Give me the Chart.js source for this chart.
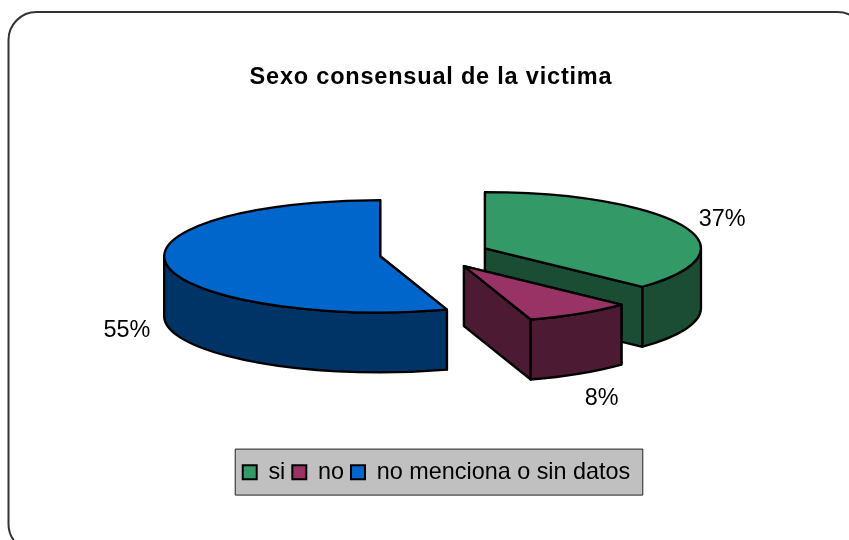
<!DOCTYPE html>
<html>
<head>
<meta charset="utf-8">
<title>Sexo consensual de la victima</title>
<script src="https://cdn.jsdelivr.net/npm/chart.js@4"></script>
<style>
  html, body { margin: 0; padding: 0; background: #fff; }
  #wrap { width: 849px; height: 540px; }
</style>
</head>
<body>
<div id="wrap"><canvas id="pieChart" width="849" height="540"></canvas></div>
<script>
const categories = ['si', 'no', 'no menciona o sin datos'];
const shares = [37, 8, 55];
const sliceColors = ['#339966', '#993366', '#0066CC'];
const wallColors = ['#1A4D33', '#4D1A33', '#003366'];

// tilted pie settings
const pieCenter = { x: 434.5, y: 254 };
const tilt = 0.26;
const depth = 60;
const explode = 55;
// where each percent label sits relative to its slice's rim
const labelNudge = [[39, -6], [22, 85], [-40, 66]];

const labelFont = '"Liberation Sans", Arial, sans-serif';

function outline(ctx, fill) {
  ctx.fillStyle = fill;
  ctx.fill();
  ctx.lineWidth = 2.3;
  ctx.strokeStyle = '#000';
  ctx.lineJoin = 'round';
  ctx.stroke();
}

// one exploded slice: cut faces, then the rim wall, then the top
function drawSlice(ctx, arc, i) {
  const { startAngle, endAngle, outerRadius: r } = arc;
  const mid = (startAngle + endAngle) / 2;
  const cx = pieCenter.x + Math.cos(mid) * explode;
  const cy = pieCenter.y + Math.sin(mid) * explode * tilt;
  const rimX = a => cx + Math.cos(a) * r;
  const rimY = a => cy + Math.sin(a) * r * tilt;

  [startAngle, endAngle].forEach(a => {
    ctx.beginPath();
    ctx.moveTo(cx, cy);
    ctx.lineTo(rimX(a), rimY(a));
    ctx.lineTo(rimX(a), rimY(a) + depth);
    ctx.lineTo(cx, cy + depth);
    ctx.closePath();
    outline(ctx, wallColors[i]);
  });

  // only the front half of the rim shows (canvas angles 0..PI, plus 2PI wrap)
  const wrap = endAngle > Math.PI * 2 ? Math.PI * 2 : 0;
  const from = Math.max(startAngle, wrap);
  const to = Math.min(endAngle, wrap + Math.PI);
  if (to > from) {
    ctx.beginPath();
    ctx.ellipse(cx, cy, r, r * tilt, 0, from, to);
    ctx.lineTo(rimX(to), rimY(to) + depth);
    ctx.ellipse(cx, cy + depth, r, r * tilt, 0, to, from, true);
    ctx.closePath();
    outline(ctx, wallColors[i]);
  }

  ctx.beginPath();
  ctx.moveTo(cx, cy);
  ctx.ellipse(cx, cy, r, r * tilt, 0, startAngle, endAngle);
  ctx.closePath();
  outline(ctx, sliceColors[i]);

  ctx.fillStyle = '#000';
  ctx.font = '23.4px ' + labelFont;
  ctx.textAlign = 'center';
  ctx.textBaseline = 'middle';
  ctx.fillText(shares[i] + '%', rimX(mid) + labelNudge[i][0], rimY(mid) + labelNudge[i][1]);
}

const tiltedPie = {
  id: 'tiltedPie',
  afterInit(chart) {
    // the heading is set slightly wider than the rest of the text
    const title = chart.titleBlock;
    const drawTitle = title.draw.bind(title);
    title.draw = () => {
      const ctx = chart.ctx;
      ctx.save();
      ctx.letterSpacing = '0.8px';
      ctx.translate(-5.5, 0);
      drawTitle();
      ctx.restore();
    };
  },
  beforeDraw(chart) {
    const ctx = chart.ctx;
    // rounded frame runs off the right and bottom of the page
    ctx.save();
    ctx.beginPath();
    ctx.roundRect(8.5, 12, 857, 540, 28);
    ctx.lineWidth = 2;
    ctx.strokeStyle = '#333';
    ctx.stroke();

    // legend panel
    const boxes = chart.legend.legendHitBoxes;
    const last = boxes[boxes.length - 1];
    const left = boxes[0].left - 8;
    const right = last.left + last.width + 12;
    const top = boxes[0].top - 12;
    ctx.beginPath();
    ctx.rect(left + 0.5, top + 0.5, right - left, 46);
    ctx.fillStyle = '#C0C0C0';
    ctx.fill();
    ctx.lineWidth = 1;
    ctx.strokeStyle = '#222';
    ctx.stroke();
    ctx.restore();
  },
  beforeDatasetsDraw(chart) {
    const ctx = chart.ctx;
    const arcs = chart.getDatasetMeta(0).data;
    ctx.save();
    // back slice first, the small front slice last
    [2, 0, 1].forEach(i => drawSlice(ctx, arcs[i], i));
    ctx.restore();
    return false;
  }
};

new Chart(document.getElementById('pieChart'), {
  type: 'pie',
  data: {
    labels: categories,
    datasets: [{
      data: shares,
      backgroundColor: sliceColors,
      borderColor: '#000',
      borderWidth: 2
    }]
  },
  options: {
    responsive: false,
    animation: false,
    radius: 216,
    layout: { padding: { left: 24, bottom: 46 } },
    events: [],
    plugins: {
      title: {
        display: true,
        text: 'Sexo consensual de la victima',
        color: '#000',
        font: { family: labelFont, size: 23.5, weight: 'bold' },
        padding: { top: 63, bottom: 8 }
      },
      legend: {
        position: 'bottom',
        labels: {
          color: '#000',
          font: { family: labelFont, size: 23.4 },
          boxWidth: 14,
          boxHeight: 14,
          padding: 7
        }
      },
      tooltip: { enabled: false }
    }
  },
  plugins: [tiltedPie]
});
</script>
</body>
</html>
